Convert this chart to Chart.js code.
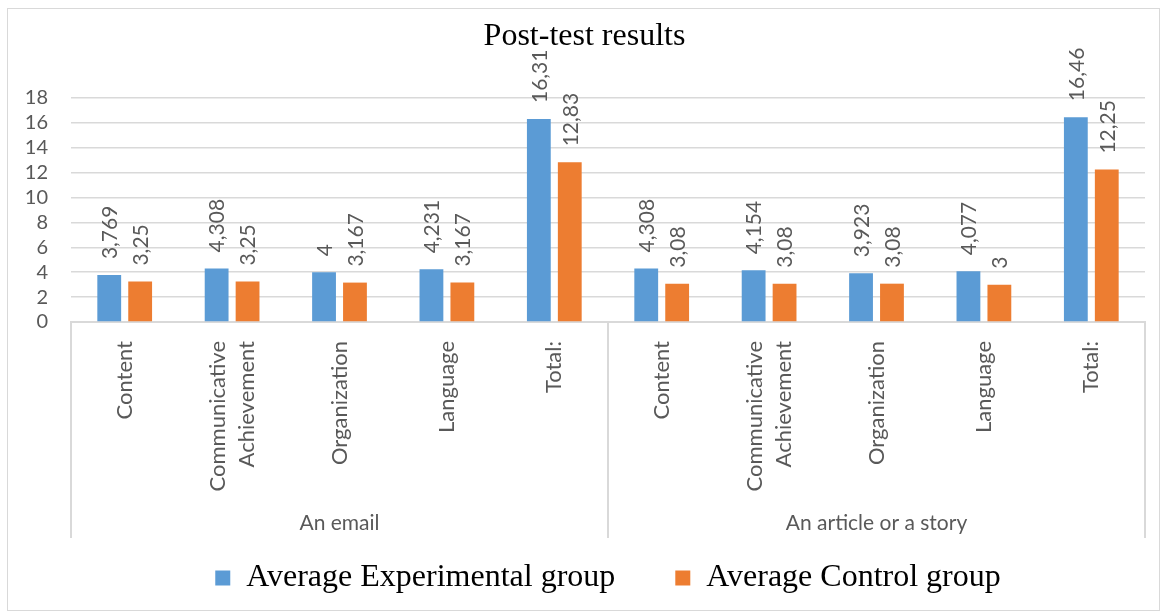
<!DOCTYPE html>
<html>
<head>
<meta charset="utf-8">
<title>Post-test results</title>
<script src="https://cdn.jsdelivr.net/npm/chart.js@4.4.1/dist/chart.umd.min.js"></script>
<style>
  html, body { margin: 0; padding: 0; background: #ffffff; }
  #wrap { width: 1165px; height: 615px; position: relative; }
</style>
</head>
<body>
<div id="wrap"><canvas id="chart" width="1165" height="615"></canvas></div>
<script>
// Criteria scored in each writing task (two task groups of five columns)
const criteria = [
  "Content", ["Communicative", "Achievement"], "Organization", "Language", "Total:",
  "Content", ["Communicative", "Achievement"], "Organization", "Language", "Total:"
];
const taskGroups = ["An email", "An article or a story"];
const groupSize = 5;

const seriesNames = ["Average Experimental group", "Average Control group"];
const experimental = [3.769, 4.308, 4, 4.231, 16.31, 4.308, 4.154, 3.923, 4.077, 16.46];
const control = [3.25, 3.25, 3.167, 3.167, 12.83, 3.08, 3.08, 3.08, 3, 12.25];

const yTicks = { min: 0, max: 18, step: 2 };

const AXIS_FONT = "Lato";
const SERIF_FONT = "'Liberation Serif', 'Times New Roman', serif";
const TEXT_GREY = "#595959";
const LINE_GREY = "#d9d9d9";

// Values printed vertically above each bar, with a decimal comma
const valueLabels = {
  id: "valueLabels",
  afterDatasetsDraw(chart) {
    const ctx = chart.ctx;
    ctx.save();
    ctx.font = "21px " + AXIS_FONT;
    ctx.fillStyle = TEXT_GREY;
    ctx.textAlign = "left";
    ctx.textBaseline = "middle";
    chart.data.datasets.forEach((ds, di) => {
      const meta = chart.getDatasetMeta(di);
      meta.data.forEach((bar, i) => {
        const txt = String(ds.data[i]).replace(".", ",");
        ctx.save();
        ctx.translate(bar.x, bar.y - 16);
        ctx.rotate(-Math.PI / 2);
        ctx.fillText(txt, 0, 1);
        ctx.restore();
      });
    });
    ctx.restore();
  }
};

// Vertical criterion names, task group names, dividers and the outer frame
const axisFrame = {
  id: "axisFrame",
  afterDraw(chart) {
    const ctx = chart.ctx;
    const x = chart.scales.x;
    const area = chart.chartArea;
    const groupBottom = 538;
    ctx.save();
    ctx.strokeStyle = LINE_GREY;
    ctx.lineWidth = 1;
    ctx.strokeRect(7.5, 8.5, 1152, 602);

    // criterion names, read bottom to top, ending just under the axis
    ctx.font = "22px " + AXIS_FONT;
    ctx.fillStyle = TEXT_GREY;
    ctx.textAlign = "right";
    ctx.textBaseline = "middle";
    const lineGap = 29;
    criteria.forEach((label, i) => {
      const lines = Array.isArray(label) ? label : [label];
      const cx = x.getPixelForValue(i);
      lines.forEach((line, k) => {
        const lx = cx + (k - (lines.length - 1) / 2) * lineGap;
        ctx.save();
        ctx.translate(lx, area.bottom + 19);
        ctx.rotate(-Math.PI / 2);
        ctx.fillText(line, 0, 0);
        ctx.restore();
      });
    });

    // group dividers
    ctx.lineWidth = 2;
    for (let g = 0; g <= taskGroups.length; g++) {
      const idx = g * groupSize;
      let px;
      if (idx === 0) px = area.left;
      else if (idx >= criteria.length) px = area.right;
      else px = (x.getPixelForValue(idx - 1) + x.getPixelForValue(idx)) / 2;
      px = Math.round(px);
      ctx.beginPath();
      ctx.moveTo(px, area.bottom);
      ctx.lineTo(px, groupBottom);
      ctx.stroke();
    }

    // group names
    ctx.font = "21px " + AXIS_FONT;
    ctx.textAlign = "center";
    taskGroups.forEach((name, g) => {
      const first = x.getPixelForValue(g * groupSize);
      const last = x.getPixelForValue(g * groupSize + groupSize - 1);
      ctx.fillText(name, (first + last) / 2, 523);
    });
    ctx.restore();
  }
};

new Chart(document.getElementById("chart"), {
  type: "bar",
  data: {
    labels: criteria,
    datasets: [
      {
        label: seriesNames[0],
        data: experimental,
        backgroundColor: "#5B9BD5",
        categoryPercentage: 0.576,
        barPercentage: 0.77
      },
      {
        label: seriesNames[1],
        data: control,
        backgroundColor: "#ED7D31",
        categoryPercentage: 0.576,
        barPercentage: 0.77
      }
    ]
  },
  options: {
    responsive: false,
    animation: false,
    devicePixelRatio: 1,
    layout: { padding: { top: 0, left: 24, right: 20, bottom: 11 } },
    plugins: {
      tooltip: { enabled: false },
      title: {
        display: true,
        text: "Post-test results",
        color: "#000000",
        font: { family: SERIF_FONT, size: 32, weight: "normal" },
        padding: { top: 17, bottom: 42.6 }
      },
      legend: {
        position: "bottom",
        fullSize: false,
        labels: {
          color: "#000000",
          font: { family: SERIF_FONT, size: 32 },
          boxWidth: 15,
          boxHeight: 15,
          padding: 60
        }
      }
    },
    scales: {
      x: {
        grid: { display: false },
        border: { display: true, color: LINE_GREY, width: 2 },
        ticks: { display: false },
        afterFit(scale) { scale.height = 180; }
      },
      y: {
        min: yTicks.min,
        max: yTicks.max,
        grid: { color: LINE_GREY, lineWidth: 1.5, drawTicks: false },
        border: { display: false },
        ticks: {
          stepSize: yTicks.step,
          autoSkip: false,
          padding: 23,
          color: TEXT_GREY,
          font: { family: AXIS_FONT, size: 20 }
        },
        afterFit(scale) { scale.width = 47; }
      }
    }
  },
  plugins: [valueLabels, axisFrame]
});
</script>
</body>
</html>
